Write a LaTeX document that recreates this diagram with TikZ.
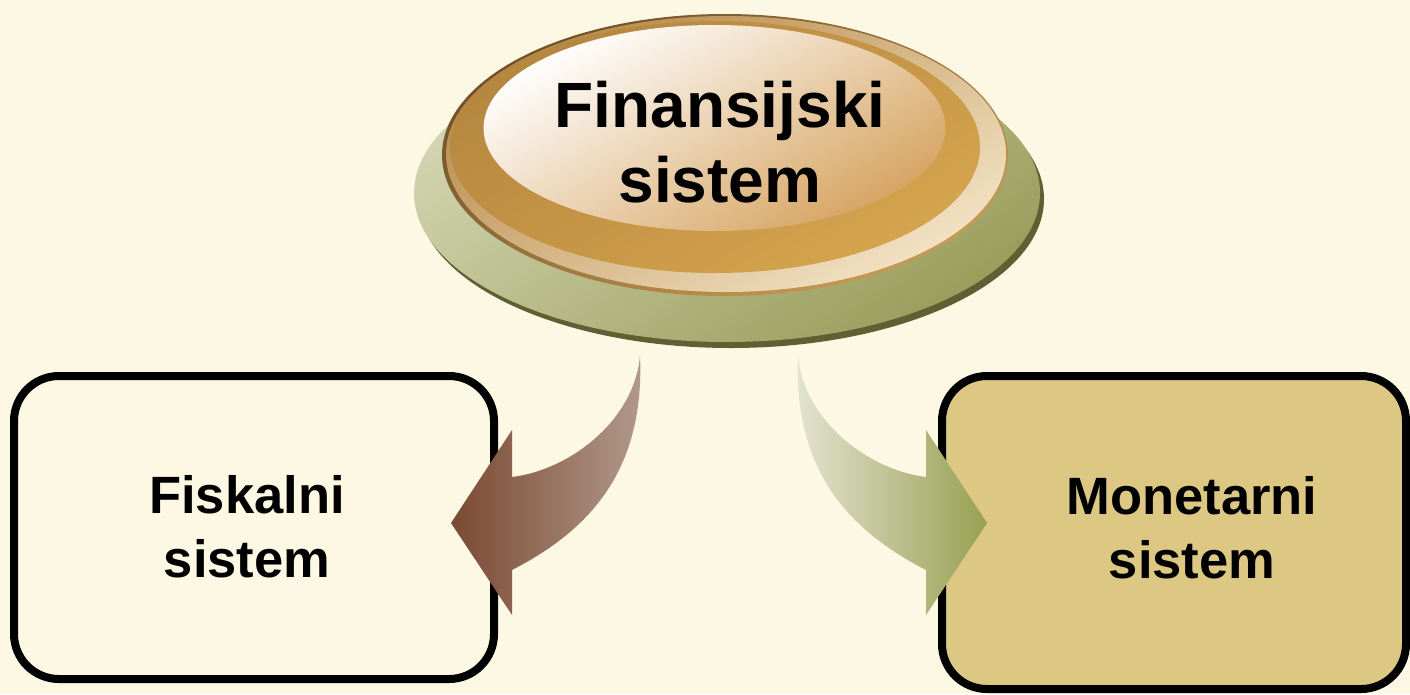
\documentclass[tikz,border=0pt]{standalone}
\usepackage{fontspec}
\setmainfont{Liberation Sans}
\usetikzlibrary{shapes.geometric}
\definecolor{bg}{HTML}{FDF8E4}
\definecolor{monfill}{HTML}{DCC882}
\definecolor{greenlight}{HTML}{D2D5B0}
\definecolor{greendark}{HTML}{9A9E5C}
\definecolor{greenrim}{HTML}{5E5F33}
\definecolor{outlA}{HTML}{6E5028}
\definecolor{outlB}{HTML}{C89A55}
\definecolor{rimA}{HTML}{B88A48}
\definecolor{rimB}{HTML}{F2E2C4}
\definecolor{goldA}{HTML}{B5863F}
\definecolor{goldB}{HTML}{D4A44E}
\definecolor{innerA}{HTML}{FFFFFF}
\definecolor{innerB}{HTML}{D6A462}
\definecolor{brownA}{HTML}{7A4A32}
\definecolor{brownB}{HTML}{B29A8C}
\definecolor{oliveA}{HTML}{E4E4D2}
\definecolor{oliveB}{HTML}{98A052}
\begin{document}
\begin{tikzpicture}[x=1pt,y=-1pt,
  box/.style={draw=black, line width=8pt, rounded corners=45pt, inner sep=0pt},
  lbl/.style={font=\fontsize{52.5}{64}\selectfont\bfseries, align=center, inner sep=0pt},
  toplbl/.style={font=\fontsize{64}{75}\selectfont\bfseries, align=center, inner sep=0pt}]
\useasboundingbox (0,0) rectangle (1410,694);
\fill[bg] (0,0) rectangle (1410,694);

% bottom green disc
\fill[greenrim] (731,199) ellipse [x radius=313pt, y radius=149pt];
\shade[top color=greenlight, bottom color=greendark, shading angle=35] (727,193) ellipse [x radius=313pt, y radius=149pt];
% gold disc
\shade[top color=outlA, bottom color=outlB, shading angle=30] (725,155) ellipse [x radius=283pt, y radius=141pt];
\shade[top color=rimA, bottom color=rimB, shading angle=30] (726,154) ellipse [x radius=280pt, y radius=138pt];
\shade[top color=goldA, bottom color=goldB, shading angle=30] (715,147) ellipse [x radius=265pt, y radius=126pt];
\shade[top color=innerA, bottom color=innerB, shading angle=30] (714.5,128) ellipse [x radius=231pt, y radius=103pt];
\node[toplbl] (fin) at (720,142.5) {Finansijski\\sistem};

% boxes
\node[box, fill=bg, minimum width=480pt, minimum height=303pt] (fisk) at (254,527.5) {};
\node[box, fill=monfill, minimum width=464pt, minimum height=313pt] (mon) at (1174,532.5) {};
\node[lbl] (fisktxt) at (247,527) {Fiskalni\\sistem};
\node[lbl] (montxt) at (1192,528) {Monetarni\\sistem};

% curved block arrows
\coordinate (lt) at (640,355);
\coordinate (rt) at (798,355);
\shade[left color=brownA, right color=brownB]
  (lt) .. controls (635,420) and (570,470) .. (512,477) -- (512,430) -- (451,523) -- (512,615) -- (512,570)
  .. controls (590,530) and (645,470) .. (lt) -- cycle;
\shade[left color=oliveA, right color=oliveB]
  (rt) .. controls (803,420) and (868,470) .. (926,477) -- (926,430) -- (987,523) -- (926,615) -- (926,570)
  .. controls (848,530) and (793,470) .. (rt) -- cycle;
\end{tikzpicture}
\end{document}
